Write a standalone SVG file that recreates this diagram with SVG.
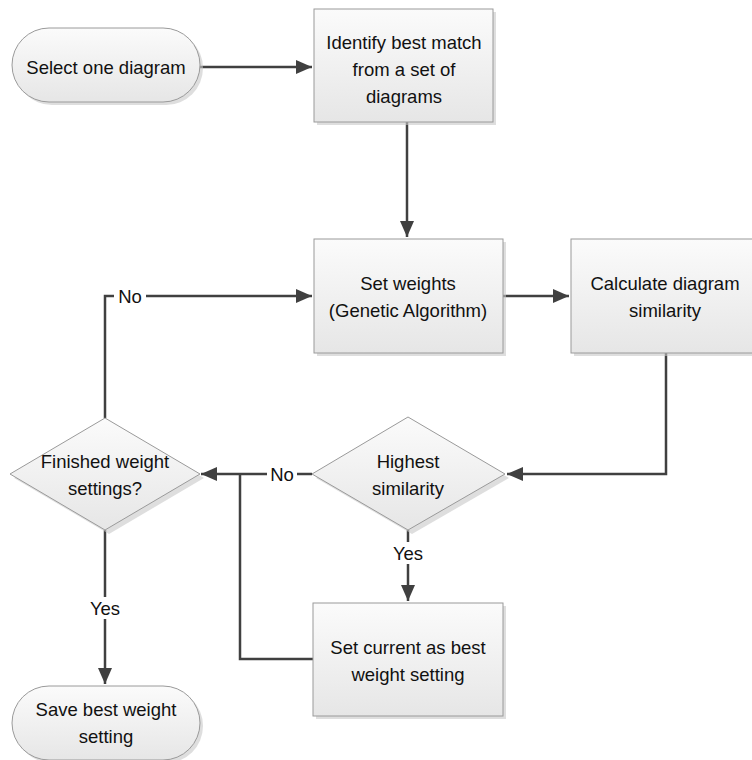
<svg xmlns="http://www.w3.org/2000/svg" width="752" height="760" viewBox="0 0 752 760">
<defs>
<linearGradient id="g" x1="0" y1="0" x2="0" y2="1"><stop offset="0" stop-color="#fbfbfb"/><stop offset="1" stop-color="#e6e6e6"/></linearGradient>
<marker id="a" viewBox="0 0 16 14" refX="16" refY="7" markerWidth="16" markerHeight="14" orient="auto" markerUnits="userSpaceOnUse"><path d="M0,0 L16,7 L0,14 z" fill="#404040"/></marker>
</defs>
<style>
.n{fill:url(#g);stroke:#9a9a9a;stroke-width:1}
.sh{fill:#c8c8c8;opacity:0.6}
.t{font-family:"Liberation Sans",Arial,sans-serif;font-size:18.5px;fill:#111111;text-anchor:middle}
.c{fill:none;stroke:#404040;stroke-width:2.5}
.lb{font-family:"Liberation Sans",Arial,sans-serif;font-size:18.5px;fill:#111111;text-anchor:middle}
.bg{fill:#ffffff}
</style>
<rect width="752" height="760" fill="#ffffff"/>
<g id="connectors">
<path class="c" d="M200,67 H312" marker-end="url(#a)"/>
<path class="c" d="M407,122 V237" marker-end="url(#a)"/>
<path class="c" d="M503,296 H569" marker-end="url(#a)"/>
<path class="c" d="M666,353 V474 H507" marker-end="url(#a)"/>
<path class="c" d="M312,474 H201" marker-end="url(#a)"/>
<path class="c" d="M313,659 H240 V474"/>
<path class="c" d="M408,530 V601" marker-end="url(#a)"/>
<path class="c" d="M105,530 V684" marker-end="url(#a)"/>
<path class="c" d="M105,418 V296 H312" marker-end="url(#a)"/>
<rect class="bg" x="267" y="463" width="30" height="22"/>
<text class="lb" x="282" y="481">No</text>
<rect class="bg" x="114" y="285" width="32" height="22"/>
<text class="lb" x="130" y="303">No</text>
<rect class="bg" x="389" y="542" width="38" height="22"/>
<text class="lb" x="408" y="560">Yes</text>
<rect class="bg" x="86" y="597" width="38" height="22"/>
<text class="lb" x="105" y="615">Yes</text>
</g>
<g id="start">
<rect class="sh" x="15" y="31" width="188" height="74" rx="37"/>
<rect class="n" x="12" y="28" width="188" height="74" rx="37"/>
<text class="t" x="106" y="74">Select one diagram</text>
</g>
<g id="identify">
<rect class="sh" x="317" y="12" width="179" height="113"/>
<rect class="n" x="314" y="9" width="179" height="113"/>
<text class="t" x="404" y="49">Identify best match</text>
<text class="t" x="404" y="76">from a set of</text>
<text class="t" x="404" y="103">diagrams</text>
</g>
<g id="setweights">
<rect class="sh" x="317" y="242" width="189" height="114"/>
<rect class="n" x="314" y="239" width="189" height="114"/>
<text class="t" x="408" y="290">Set weights</text>
<text class="t" x="408" y="317">(Genetic Algorithm)</text>
</g>
<g id="calculate">
<rect class="sh" x="574" y="242" width="185" height="114"/>
<rect class="n" x="571" y="239" width="185" height="114"/>
<text class="t" x="665" y="290">Calculate diagram</text>
<text class="t" x="665" y="317">similarity</text>
</g>
<g id="highest">
<polygon class="sh" points="412,421 509,478 412,534 316,478"/>
<polygon class="n" points="408,417 505,474 408,530 312,474"/>
<text class="t" x="408" y="468">Highest</text>
<text class="t" x="408" y="495">similarity</text>
</g>
<g id="finished">
<polygon class="sh" points="109,422 204,478 109,534 14,478"/>
<polygon class="n" points="105,418 200,474 105,530 10,474"/>
<text class="t" x="105" y="468">Finished weight</text>
<text class="t" x="105" y="495">settings?</text>
</g>
<g id="setcurrent">
<rect class="sh" x="316" y="606" width="190" height="113"/>
<rect class="n" x="313" y="603" width="190" height="113"/>
<text class="t" x="408" y="654">Set current as best</text>
<text class="t" x="408" y="681">weight setting</text>
</g>
<g id="save">
<rect class="sh" x="15" y="689" width="188" height="74" rx="37"/>
<rect class="n" x="12" y="686" width="188" height="74" rx="37"/>
<text class="t" x="106" y="716">Save best weight</text>
<text class="t" x="106" y="743">setting</text>
</g>
</svg>
